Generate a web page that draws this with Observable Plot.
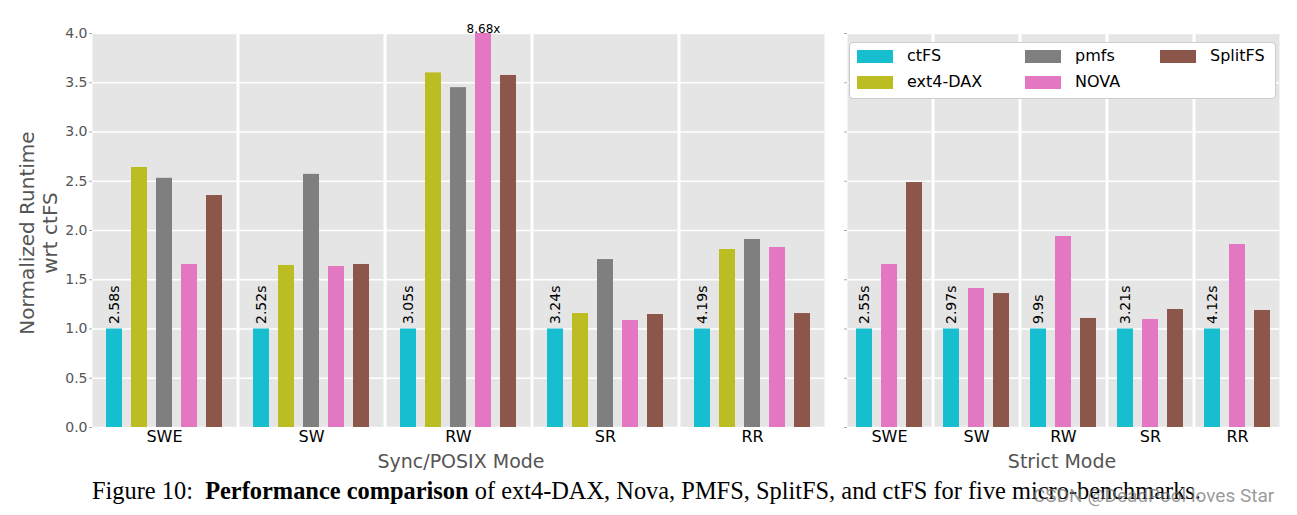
<!DOCTYPE html>
<html>
<head>
<meta charset="utf-8">
<script src="https://cdn.jsdelivr.net/npm/d3@7"></script>
<script src="https://cdn.jsdelivr.net/npm/@observablehq/plot@0.6"></script>
<style>
  html, body { margin: 0; padding: 0; background: #fff; }
  #wrap { position: relative; width: 1297px; height: 515px; overflow: hidden; font-family: "DejaVu Sans", sans-serif; }
  .abs { position: absolute; white-space: nowrap; }
  #left, #right { position: absolute; top: 0; }
  #legend { position: absolute; left: 849px; top: 42px; width: 425px; height: 55px; background: #fff; border: 1px solid #cccccc; border-radius: 4px; }
  .sw { position: absolute; width: 36px; height: 13px; }
  .lt { position: absolute; font-size: 16px; color: #000; line-height: 16px; }
</style>
</head>
<body>
<div id="wrap">
  <div id="left"></div>
  <div id="right"></div>
  <div class="abs" id="ytitle" style="left:39px; top:233px; transform: translate(-50%,-50%) rotate(-90deg); font-size:20px; color:#555; text-align:center; line-height:23px;">Normalized Runtime<br>wrt ctFS</div>
  <div class="abs" style="left:461px; top:461px; transform: translate(-50%,-50%); font-size:19px; color:#555;">Sync/POSIX Mode</div>
  <div class="abs" style="left:1062px; top:461px; transform: translate(-50%,-50%); font-size:19px; color:#555;">Strict Mode</div>
  <div id="legend"></div>
  <div class="abs" style="left:92px; top:477px; font-family:'Liberation Serif','Times New Roman',serif; font-size:24.4px; color:#000;">Figure 10:&nbsp; <b>Performance comparison</b> of ext4-DAX, Nova, PMFS, SplitFS, and ctFS for five micro-benchmarks.</div>
  <div class="abs" style="left:1033px; top:484px; font-family:Roboto,'Noto Sans',sans-serif; font-size:19px; color:rgba(120,120,120,0.75);">CSDN @DeadPool loves Star</div>
</div>
<script>
// ---- data ----
const groups = ["SWE", "SW", "RW", "SR", "RR"];
const fsNames = ["ctFS", "ext4-DAX", "pmfs", "NOVA", "SplitFS"];
const fsColors = ["#17becf", "#bcbd22", "#7f7f7f", "#e377c2", "#8c564b"];

const syncCtfs  = [1, 1, 1, 1, 1];
const syncExt4  = [2.64, 1.645, 3.60, 1.157, 1.807];
const syncPmfs  = [2.53, 2.57, 3.45, 1.705, 1.909];
const syncNova  = [1.655, 1.635, 8.68, 1.086, 1.827];
const syncSplit = [2.355, 1.655, 3.574, 1.147, 1.157];
const syncTimes = ["2.58s", "2.52s", "3.05s", "3.24s", "4.19s"];

const strictFs    = ["ctFS", "NOVA", "SplitFS"];
const strictCtfs  = [1, 1, 1, 1, 1];
const strictNova  = [1.655, 1.411, 1.939, 1.096, 1.858];
const strictSplit = [2.487, 1.36, 1.107, 1.198, 1.188];
const strictTimes = ["2.55s", "2.97s", "9.9s", "3.21s", "4.12s"];

const yTicks = [0, 0.5, 1, 1.5, 2, 2.5, 3, 3.5, 4];
const yMax = 4;

// ---- tables ----
function rows(series, names) {
  const out = [];
  groups.forEach((g, i) => series.forEach((s, j) => out.push({group: g, fs: names[j], value: s[i]})));
  return out;
}
const syncRows = rows([syncCtfs, syncExt4, syncPmfs, syncNova, syncSplit], fsNames);
const strictRows = rows([strictCtfs, strictNova, strictSplit], strictFs);
const syncLabels = groups.map((g, i) => ({group: g, fs: "ctFS", value: syncCtfs[i], text: syncTimes[i]}));
const strictLabels = groups.map((g, i) => ({group: g, fs: "ctFS", value: strictCtfs[i], text: strictTimes[i]}));
const overflow = syncRows.filter(d => d.value > yMax).map(d => ({...d, text: d.value.toFixed(2) + "x"}));

const color = {domain: fsNames, range: fsColors};
const font = "DejaVu Sans, sans-serif";

function panel({rowsData, labels, xDomain, width, marginLeft, marginRight, xPadIn, xPadOut, fxPadIn, showY, extra}) {
  return Plot.plot({
    width, height: 470,
    marginLeft, marginRight, marginTop: 33, marginBottom: 43,
    style: {fontFamily: font, fontSize: "14px", background: "transparent", overflow: "visible"},
    color,
    x: {domain: xDomain, paddingInner: xPadIn, paddingOuter: xPadOut, axis: null},
    fx: {domain: groups, paddingInner: fxPadIn, paddingOuter: 0, label: null},
    y: {domain: [0, yMax], label: null},
    marks: [
      Plot.frame({fill: "#e5e5e5", stroke: null}),
      Plot.ruleY(yTicks, {stroke: "white", strokeWidth: 1.6}),
      Plot.barY(rowsData, {fx: "group", x: "fs", y: "value", fill: "fs", clip: true}),
      Plot.text(labels, {fx: "group", x: "fs", y: "value", text: "text", rotate: -90, textAnchor: "start", dy: -5, fontSize: 14, fill: "#000", fontFamily: font}),
      ...(extra || []),
      Plot.axisY(yTicks, {anchor: "left", tickSize: 3, tickPadding: 2, fontSize: 14, color: "#555", stroke: "#aaa",
        tickFormat: showY ? d3.format(".1f") : () => "", label: null}),
      Plot.axisFx({anchor: "bottom", tickSize: 0, tickPadding: 3, fontSize: 16, color: "#000", label: null})
    ]
  });
}

const leftChart = panel({
  rowsData: syncRows, labels: syncLabels, xDomain: fsNames,
  width: 840, marginLeft: 90, marginRight: 14,
  xPadIn: 0.346, xPadOut: 0.46, fxPadIn: 0.02, showY: true,
  extra: [Plot.text(overflow, {fx: "group", x: "fs", y: () => yMax, text: "text", lineAnchor: "bottom", dy: -1, fontSize: 12, fill: "#000", fontFamily: font})]
});
const rightChart = panel({
  rowsData: strictRows, labels: strictLabels, xDomain: strictFs,
  width: 507, marginLeft: 56, marginRight: 17,
  xPadIn: 0.34, xPadOut: 0.317, fxPadIn: 0.035, showY: false
});
document.getElementById("left").style.left = "0px";
document.getElementById("left").appendChild(leftChart);
document.getElementById("right").style.left = "790px";
document.getElementById("right").appendChild(rightChart);

// ---- legend ----
const legend = document.getElementById("legend");
const legendPos = [[0, 0], [0, 1], [1, 0], [1, 1], [2, 0]];
const colX = [7, 175, 310];
fsNames.forEach((name, i) => {
  const [c, r] = legendPos[i];
  const sw = document.createElement("div");
  sw.className = "sw";
  sw.style.background = fsColors[i];
  sw.style.left = colX[c] + "px";
  sw.style.top = (7 + r * 26) + "px";
  legend.appendChild(sw);
  const t = document.createElement("div");
  t.className = "lt";
  t.textContent = name;
  t.style.left = (colX[c] + 50) + "px";
  t.style.top = (5 + r * 26) + "px";
  legend.appendChild(t);
});
</script>
</body>
</html>
